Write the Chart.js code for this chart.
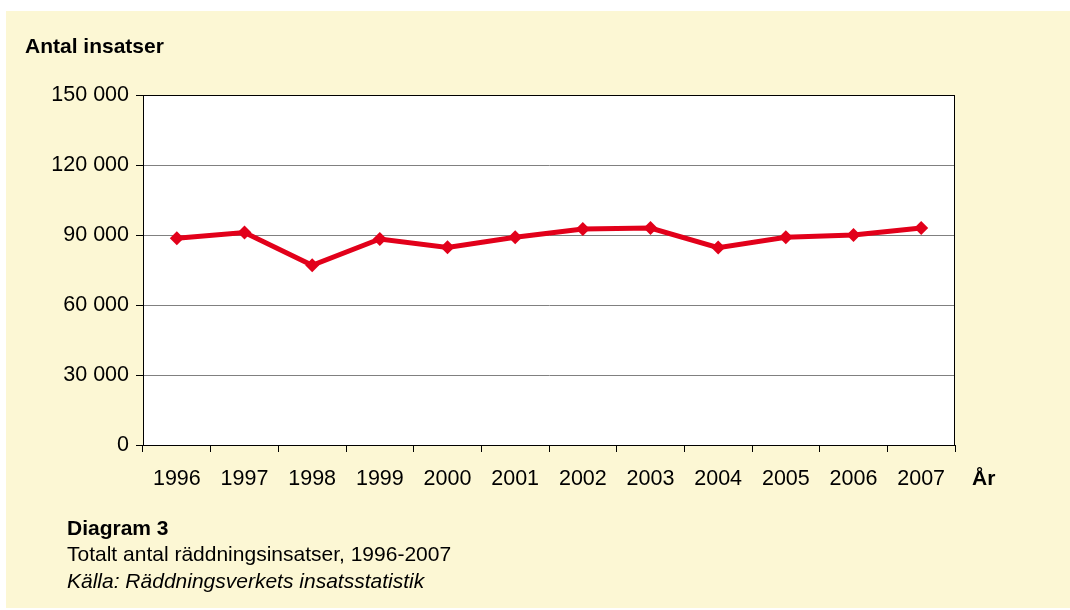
<!DOCTYPE html>
<html>
<head>
<meta charset="utf-8">
<script src="https://cdn.jsdelivr.net/npm/chart.js@4"></script>
<style>
  html, body { margin: 0; padding: 0; background: #ffffff; }
  body { width: 1070px; height: 610px; position: relative; overflow: hidden; font-family: "Liberation Sans", Arial, sans-serif; color: #000; }
  #bg { position: absolute; left: 6px; top: 11px; width: 1064px; height: 597px; background: #fcf7d4; }
  #wrap { position: absolute; left: 0; top: 0; width: 1070px; height: 610px; }
  .txt { position: absolute; white-space: nowrap; }
</style>
</head>
<body>
<div id="bg"></div>
<div id="wrap"><canvas id="chart" width="1070" height="610"></canvas></div>
<div class="txt" style="left:25px; top:35px; font-size:21px; line-height:21px; font-weight:bold;">Antal insatser</div>
<div class="txt" style="left:972px; top:467px; font-size:21px; line-height:21px; font-weight:bold;">År</div>
<div class="txt" style="left:67px; top:517px; font-size:21px; line-height:21px; font-weight:bold;">Diagram 3</div>
<div class="txt" style="left:67px; top:543px; font-size:21px; line-height:21px;">Totalt antal räddningsinsatser, 1996-2007</div>
<div class="txt" style="left:67px; top:570px; font-size:21px; line-height:21px; font-style:italic;">Källa: Räddningsverkets insatsstatistik</div>
<script>
// år och antal räddningsinsatser
var years = ['1996', '1997', '1998', '1999', '2000', '2001', '2002', '2003', '2004', '2005', '2006', '2007'];
var insatser = [88600, 91100, 77000, 88300, 84700, 89000, 92600, 93000, 84600, 89000, 90000, 93000];
var yTicks = [0, 30000, 60000, 90000, 120000, 150000];

// vit rityta och svart ram
var plotFrame = {
    id: 'plotFrame',
    beforeDraw: function (chart) {
        var a = chart.chartArea, ctx = chart.ctx;
        ctx.save();
        ctx.fillStyle = '#ffffff';
        ctx.fillRect(a.left, a.top, a.right - a.left, a.bottom - a.top);
        ctx.restore();
    },
    afterDatasetsDraw: function (chart) {
        var a = chart.chartArea, ctx = chart.ctx;
        ctx.save();
        ctx.strokeStyle = '#000000';
        ctx.lineWidth = 1;
        ctx.strokeRect(a.left + 0.5, a.top + 0.5, a.right - a.left - 1, a.bottom - a.top);
        ctx.restore();
    }
};

function fmt(v) {
    return String(v).replace(/\B(?=(\d{3})+(?!\d))/g, ' ');
}

var ctx = document.getElementById('chart').getContext('2d');
new Chart(ctx, {
    type: 'line',
    data: {
        labels: years,
        datasets: [{
            data: insatser,
            borderColor: '#e2001a',
            backgroundColor: '#e2001a',
            borderWidth: 5,
            pointStyle: 'rectRot',
            pointRadius: 7,
            pointBorderWidth: 0,
            tension: 0,
            fill: false
        }]
    },
    options: {
        responsive: false,
        animation: false,
        layout: { padding: { top: 95, right: 115, bottom: 105, left: 0 } },
        plugins: { legend: { display: false }, tooltip: { enabled: false } },
        scales: {
            x: {
                offset: true,
                grid: { offset: true, drawOnChartArea: false, drawTicks: true, tickLength: 7, color: '#000000' },
                border: { color: '#000000', width: 1 },
                ticks: { color: '#000000', padding: 14, maxRotation: 0, font: { family: 'Liberation Sans', size: 21.5 } },
                afterFit: function (s) { s.height = 60; }
            },
            y: {
                min: 0,
                max: 150000,
                afterBuildTicks: function (s) { s.ticks = yTicks.map(function (v) { return { value: v }; }); },
                grid: { color: '#808080', tickColor: '#000000', tickLength: 7, lineWidth: 1 },
                border: { color: '#000000', width: 1 },
                ticks: {
                    color: '#000000',
                    padding: 7,
                    font: { family: 'Liberation Sans', size: 21.5 },
                    callback: function (v) { return fmt(v); }
                },
                afterFit: function (s) { s.width = 143; }
            }
        }
    },
    plugins: [plotFrame]
});
</script>
</body>
</html>
